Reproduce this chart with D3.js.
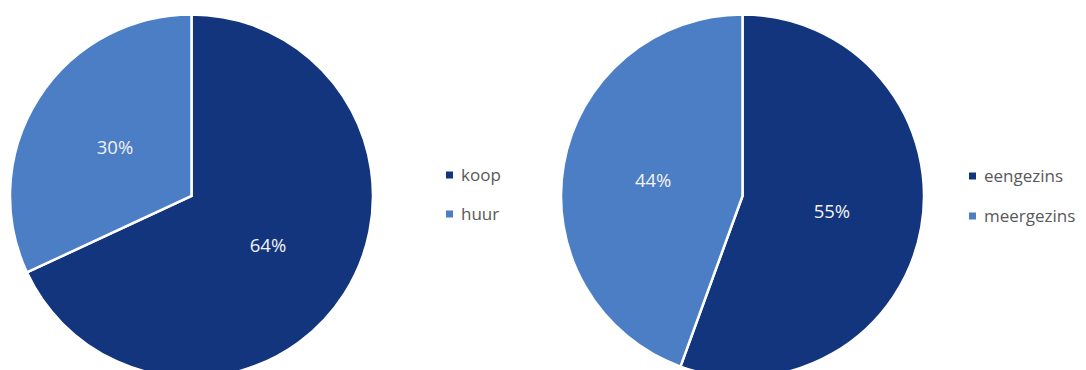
<!DOCTYPE html>
<html lang="nl">
<head>
    <meta charset="utf-8">
    <title>Woningvoorraad</title>
    <style type="text/css">
        body{
            margin: 0;
            background: #fff;
        }
        .chart .slice{
            stroke: #fff;
            stroke-width: 2.5;
        }
        .chart .label{
            font-family: "Open Sans", sans-serif;
            font-size: 18.5px;
            fill: #f2f2f2;
        }
        .chart .legend text{
            font-family: "Open Sans", sans-serif;
            font-size: 17px;
            fill: #595959;
        }
    </style>
</head>
<body>
    <svg class="chart" width="1086" height="370"></svg>

    <script src="https://d3js.org/d3.v7.min.js"></script>
    <script>
        // data
        var eigendomCats = ['koop', 'huur'];
        var eigendomVals = [64, 30];
        var typeCats = ['eengezins', 'meergezins'];
        var typeVals = [55, 44];

        var colors = ['#13357e', '#4b7ec4'];

        var svg = d3.select('.chart');

        var radius = 181.5;

        var pie = d3.pie().sort(null).value(function(d){ return d.value; });
        var arc = d3.arc().innerRadius(0).outerRadius(radius);

        function drawPie(cats, vals, cx, cy, legendX, legendY, legendStep){
            var data = cats.map(function(c, i){ return {name: c, value: vals[i]}; });
            var color = d3.scaleOrdinal().domain(cats).range(colors);

            var g = svg.append('g')
                        .attr('transform', 'translate(' + cx + ',' + cy + ')');

            var arcs = pie(data);

            g.selectAll('.slice')
                .data(arcs)
                .enter()
                .append('path')
                .attr('class', 'slice')
                .attr('fill', function(d){ return color(d.data.name); })
                .attr('d', arc);

            g.selectAll('.label')
                .data(arcs)
                .enter()
                .append('text')
                .attr('class', 'label')
                .attr('text-anchor', 'middle')
                .attr('dy', '0.36em')
                .attr('transform', function(d){ return 'translate(' + arc.centroid(d) + ')'; })
                .text(function(d){ return d.data.value + '%'; });

            // legenda
            var legend = svg.append('g')
                            .attr('class', 'legend')
                            .attr('transform', 'translate(' + legendX + ',' + legendY + ')');

            var item = legend.selectAll('g')
                            .data(cats)
                            .enter()
                            .append('g')
                            .attr('transform', function(d, i){ return 'translate(0,' + (i * legendStep) + ')'; });

            item.append('rect')
                .attr('x', 0)
                .attr('y', -3.5)
                .attr('width', 7)
                .attr('height', 7)
                .attr('fill', function(d){ return color(d); });

            item.append('text')
                .attr('x', 15)
                .attr('dy', '0.35em')
                .text(function(d){ return d; });
        }

        drawPie(eigendomCats, eigendomVals, 191.5, 196, 446, 175, 39);
        drawPie(typeCats, typeVals, 742.5, 196, 969, 176, 40);
    </script>
</body>
</html>
